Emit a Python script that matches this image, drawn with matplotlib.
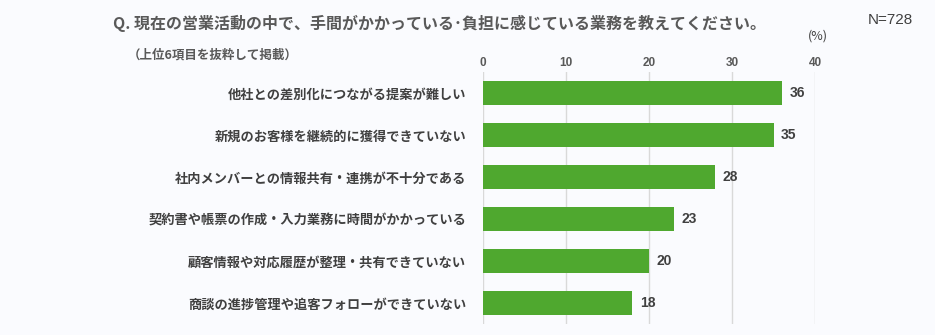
import matplotlib
matplotlib.use('Agg')
import matplotlib.pyplot as plt

plt.rcParams['font.family'] = ['Noto Sans CJK JP', 'DejaVu Sans']

categories = [
    '他社との差別化につながる提案が難しい',
    '新規のお客様を継続的に獲得できていない',
    '社内メンバーとの情報共有・連携が不十分である',
    '契約書や帳票の作成・入力業務に時間がかかっている',
    '顧客情報や対応履歴が整理・共有できていない',
    '商談の進捗管理や追客フォローができていない',
]
values = [36, 35, 28, 23, 20, 18]
ticks = [0, 10, 20, 30, 40]

bg = '#FAFBFE'
bar_color = '#4FA82F'
text_color = '#404040'
num_font = 'Liberation Sans'

fig = plt.figure(figsize=(9.35, 3.35), dpi=100, facecolor=bg)
ax = fig.add_axes([0.5166, 0.033, 0.3551, 0.752], facecolor=bg)

y = list(range(len(categories)))
ax.barh(y, values, height=0.58, color=bar_color, zorder=3)
for yi, v in zip(y, values):
    ax.text(v + 0.9, yi, str(v), va='center', ha='left', fontsize=10,
            fontweight='bold', color=text_color, family=num_font)

ax.set_xlim(0, 40)
ax.set_ylim(len(categories) - 0.5, -0.5)
ax.set_xticks(ticks)
ax.set_xticklabels([str(t) for t in ticks], family=num_font, fontweight='bold')
ax.xaxis.tick_top()
ax.tick_params(axis='x', length=0, pad=2, labelsize=8.5, labelcolor='#595959')
ax.set_yticks(y)
ax.set_yticklabels(categories, fontsize=9.5, fontweight='bold', color=text_color)
ax.tick_params(axis='y', length=0, pad=12)
ax.grid(axis='x', color='#D9D9D9', linewidth=1, zorder=0)
for s in ax.spines.values():
    s.set_visible(False)

fig.text(113 / 935, 1 - 23 / 335, 'Q. 現在の営業活動の中で、手間がかかっている･負担に感じている業務を教えてください。',
         fontsize=11.5, fontweight='bold', color='#595959', va='center', ha='left')
fig.text(128 / 935, 1 - 55 / 335, '（上位6項目を抜粋して掲載）', fontsize=9,
         fontweight='bold', color='#595959', va='center', ha='left')
fig.text(818 / 935, 1 - 36 / 335, '(%)', fontsize=9, color=text_color,
         va='center', ha='center')
fig.text(913 / 935, 1 - 20 / 335, 'N=728', fontsize=11, color=text_color,
         va='center', ha='right', family=num_font)

fig.savefig('out.png', dpi=100, facecolor=bg)
